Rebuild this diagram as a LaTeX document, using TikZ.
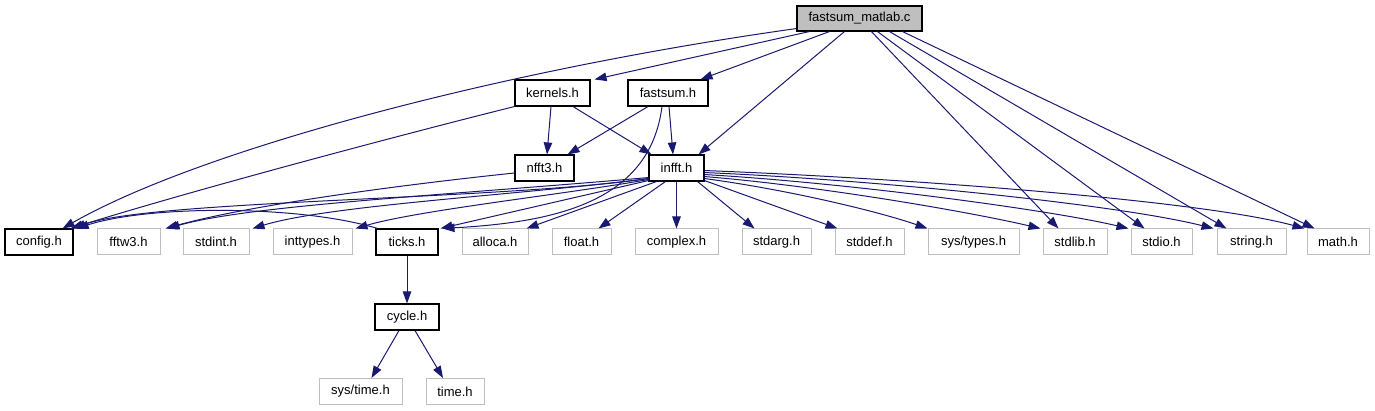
\documentclass[tikz,border=0pt]{standalone}
\usepackage{fontspec}
\setmainfont{Liberation Sans}
\usetikzlibrary{arrows.meta}
\definecolor{edgeblue}{HTML}{191970}
\definecolor{boxgrey}{HTML}{BFBFBF}
\tikzset{
  filebox/.style={draw=black, line width=1.1pt, fill=white, minimum height=26pt, inner sep=0pt, font=\fontsize{13pt}{15pt}\selectfont},
  sysbox/.style={draw=boxgrey, line width=1pt, fill=white, minimum height=26pt, inner sep=0pt, font=\fontsize{13pt}{15pt}\selectfont},
  rootbox/.style={filebox, fill=boxgrey, minimum height=25pt},
  dep/.style={draw=edgeblue, line width=1pt, -{Triangle[length=12pt,width=8.5pt]}}
}
\begin{document}
\begin{tikzpicture}[x=1pt,y=-1pt]
\useasboundingbox (0,0) rectangle (1375,411);
% nodes
\node[rootbox, minimum width=125pt] (root) at (859.5,18.5) {fastsum\_matlab.c};
\node[filebox, minimum width=75pt] (kernels) at (552.5,93) {kernels.h};
\node[filebox, minimum width=80pt] (fastsum) at (668,93) {fastsum.h};
\node[filebox, minimum width=59pt] (nfft3) at (544.5,168) {nfft3.h};
\node[filebox, minimum width=55pt] (infft) at (676.5,168) {infft.h};
\node[filebox, minimum width=68pt] (config) at (39,242) {config.h};
\node[sysbox, minimum width=63pt] (fftw3) at (128.5,242) {fftw3.h};
\node[sysbox, minimum width=66pt] (stdint) at (216,242) {stdint.h};
\node[sysbox, minimum width=79pt] (inttypes) at (312.5,242) {inttypes.h};
\node[filebox, minimum width=62pt] (ticks) at (407,242) {ticks.h};
\node[sysbox, minimum width=66pt] (alloca) at (495,242) {alloca.h};
\node[sysbox, minimum width=59pt] (float) at (581.5,242) {float.h};
\node[sysbox, minimum width=83pt] (complex) at (676.5,242) {complex.h};
\node[sysbox, minimum width=69pt] (stdarg) at (776.5,242) {stdarg.h};
\node[sysbox, minimum width=69pt] (stddef) at (869.5,242) {stddef.h};
\node[sysbox, minimum width=91pt] (systypes) at (973.5,242) {sys/types.h};
\node[sysbox, minimum width=64pt] (stdlib) at (1075,242) {stdlib.h};
\node[sysbox, minimum width=61pt] (stdio) at (1161.5,242) {stdio.h};
\node[sysbox, minimum width=69pt] (string) at (1251.5,242) {string.h};
\node[sysbox, minimum width=62pt] (math) at (1338,242) {math.h};
\node[filebox, minimum width=64pt] (cycle) at (407,317) {cycle.h};
\node[sysbox, minimum width=83pt] (systime) at (360.5,391.5) {sys/time.h};
\node[sysbox, minimum width=58pt] (time) at (455,391.5) {time.h};
% root edges
\draw[dep] ([yshift=3pt]root.south west) .. controls (500,70) and (200,150) .. ([xshift=-11pt]config.north east);
\draw[dep] ([xshift=13pt]root.south west) -- ([xshift=4pt]kernels.north east);
\draw[dep] ([xshift=33pt]root.south west) -- ([xshift=-8pt]fastsum.north east);
\draw[dep] ([xshift=48pt]root.south west) -- ([xshift=-6pt]infft.north east);
\draw[dep] ([xshift=75pt]root.south west) -- ([xshift=16pt]stdlib.north west);
\draw[dep] ([xshift=81pt]root.south west) -- ([xshift=14pt]stdio.north west);
\draw[dep] ([xshift=93pt]root.south west) -- ([xshift=10pt]string.north west);
\draw[dep] ([xshift=106pt]root.south west) -- ([xshift=8pt]math.north west);
% kernels edges
\draw[dep] ([xshift=-1.5pt]kernels.south) -- ([xshift=2.5pt]nfft3.north);
\draw[dep] ([xshift=20.5pt]kernels.south) -- ([xshift=3pt]infft.north west);
\draw[dep] (kernels.south west) .. controls (420,130) and (200,188) .. ([xshift=-3pt]config.north east);
% fastsum edges
\draw[dep] ([xshift=-20pt]fastsum.south) -- ([xshift=-7pt]nfft3.north east);
\draw[dep] ([xshift=1pt]fastsum.south) -- ([xshift=-3.5pt]infft.north);
\draw[dep] ([xshift=-6pt]fastsum.south) .. controls (650,200) and (560,222) .. ([xshift=4pt]ticks.north east);
% nfft3
\draw[dep] ([yshift=-5pt]nfft3.west) .. controls (400,185) and (250,205) .. ([xshift=5pt]fftw3.north east);
% infft edges left
\draw[dep] ([yshift=3pt]infft.south west) .. controls (500,200) and (150,200) .. (config.north east);
\draw[dep] ([yshift=4pt]infft.south west) .. controls (450,195) and (250,205) .. ([xshift=7pt]fftw3.north east);
\draw[dep] ([yshift=3pt]infft.south west) .. controls (520,195) and (330,205) .. ([xshift=3pt]stdint.north east);
\draw[dep] ([yshift=2pt]infft.south west) .. controls (560,195) and (420,210) .. ([xshift=3pt]inttypes.north east);
\draw[dep] ([yshift=1pt]infft.south west) -- ([xshift=2pt]ticks.north east);
\draw[dep] ([xshift=8pt]infft.south west) -- ([xshift=-2pt]alloca.north east);
\draw[dep] ([xshift=17pt]infft.south west) -- ([xshift=-13pt]float.north east);
\draw[dep] (infft.south) -- (complex.north);
% infft edges right
\draw[dep] ([xshift=-7pt]infft.south east) -- ([xshift=13pt]stdarg.north west);
\draw[dep] ([yshift=1pt]infft.south east) -- ([xshift=3pt]stddef.north west);
\draw[dep] ([yshift=3pt]infft.south east) .. controls (790,190) and (880,212) .. (systypes.north west);
\draw[dep] ([yshift=5pt]infft.south east) .. controls (820,186) and (970,212) .. ([xshift=-2pt]stdlib.north west);
\draw[dep] ([yshift=7pt]infft.south east) .. controls (850,183) and (1050,210) .. ([xshift=-2pt]stdio.north west);
\draw[dep] ([yshift=9pt]infft.south east) .. controls (880,180) and (1120,205) .. ([xshift=-3pt]string.north west);
\draw[dep] ([yshift=11pt]infft.south east) .. controls (900,178) and (1200,200) .. ([xshift=-2pt]math.north west);
% ticks / cycle
\draw[dep] ([xshift=2pt]ticks.north west) .. controls (300,205) and (150,205) .. ([xshift=3pt]config.north east);
\draw[dep] (ticks.south) -- (cycle.north);
\draw[dep] ([xshift=-8pt]cycle.south) -- ([xshift=11pt]systime.north);
\draw[dep] ([xshift=8pt]cycle.south) -- ([xshift=-12pt]time.north);
\end{tikzpicture}
\end{document}
